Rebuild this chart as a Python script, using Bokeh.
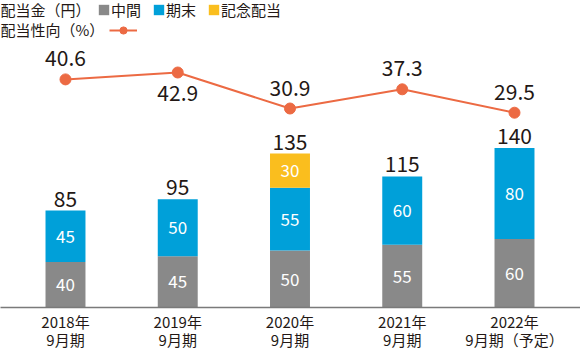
from bokeh.plotting import figure
from bokeh.models import (ColumnDataSource, Range1d, LinearAxis, FixedTicker,
                          Legend, LegendItem, Label)
from bokeh.core.properties import value
from bokeh.embed import file_html
from bokeh.resources import INLINE

# ---- data ----
periods = ["2018年\n9月期", "2019年\n9月期", "2020年\n9月期", "2021年\n9月期", "2022年\n9月期（予定）"]
interim = [40, 45, 50, 55, 60]
year_end = [45, 50, 55, 60, 80]
commemorative = [0, 0, 30, 0, 0]
payout_ratio = [40.6, 42.9, 30.9, 37.3, 29.5]
ratio_label_below = [False, True, False, False, False]

FONT = "Noto Sans CJK JP"
TXT = "#231815"
GREY = "#898989"
BLUE = "#00a0d9"
YELLOW = "#fabe1e"
ORANGE = "#ec6a43"

xs = list(range(len(periods)))
totals = [a + b + c for a, b, c in zip(interim, year_end, commemorative)]

src = ColumnDataSource(dict(x=xs, interim=interim, year_end=year_end,
                            commemorative=commemorative, total=totals,
                            total_txt=[str(t) for t in totals],
                            ratio=payout_ratio))

p = figure(width=580, height=349, frame_width=580, frame_height=307,
           output_backend="svg", toolbar_location=None,
           x_range=Range1d(-0.579, 4.588), y_range=Range1d(0, 269.3),
           min_border_left=0, min_border_right=0, min_border_top=0,
           min_border_bottom=42, y_axis_location=None, x_axis_location=None,
           outline_line_color=None)
p.grid.visible = False
p.background_fill_color = "white"
p.border_fill_color = "white"

p.extra_y_ranges = {"ratio": Range1d(-35.43, 66.9)}

# x axis
xaxis = LinearAxis(ticker=FixedTicker(ticks=xs))
xaxis.major_label_overrides = {i: lab for i, lab in enumerate(periods)}
xaxis.major_tick_line_color = None
xaxis.minor_tick_line_color = None
xaxis.major_tick_out = 0
xaxis.major_tick_in = 0
xaxis.axis_line_color = "#7a7a7a"
xaxis.axis_line_width = 1.5
xaxis.major_label_standoff = 3
xaxis.major_label_text_font = FONT
xaxis.major_label_text_font_size = "15px"
xaxis.major_label_text_color = TXT
xaxis.major_label_text_line_height = 0.9
p.add_layout(xaxis, "below")

# stacked bars
bars = p.vbar_stack(["interim", "year_end", "commemorative"], x="x", width=0.356,
                    source=src, color=[GREY, BLUE, YELLOW], line_color=None)

# in-bar labels
mid_y = [a / 2 for a in interim]
end_y = [a + b / 2 for a, b in zip(interim, year_end)]
p.text(x=xs, y=mid_y, text=[str(v) for v in interim], text_color="white",
       text_font=value(FONT), text_font_size="17px", text_align="center",
       text_baseline="middle")
p.text(x=xs, y=end_y, text=[str(v) for v in year_end], text_color="white",
       text_font=value(FONT), text_font_size="17px", text_align="center",
       text_baseline="middle")
cx = [x for x, c in zip(xs, commemorative) if c > 0]
cy = [a + b + c / 2 for a, b, c in zip(interim, year_end, commemorative) if c > 0]
ct = [str(c) for c in commemorative if c > 0]
p.text(x=cx, y=cy, text=ct, text_color="white", text_font=value(FONT),
       text_font_size="17px", text_align="center", text_baseline="middle")

# totals
p.text(x="x", y="total", text="total_txt", source=src,
       text_color=TXT, text_font=value(FONT), text_font_size="21px",
       text_align="center", text_baseline="bottom", y_offset=-4)

# payout ratio line
ln = p.line(x="x", y="ratio", source=src, line_color=ORANGE, line_width=2,
            y_range_name="ratio")
sc = p.scatter(x="x", y="ratio", source=src, size=11, fill_color=ORANGE,
               line_color=ORANGE, y_range_name="ratio")

ax = [x for x, b in zip(xs, ratio_label_below) if not b]
ay = [r for r, b in zip(payout_ratio, ratio_label_below) if not b]
bx = [x for x, b in zip(xs, ratio_label_below) if b]
by = [r for r, b in zip(payout_ratio, ratio_label_below) if b]
p.text(x=ax, y=ay, text=[f"{v:.1f}" for v in ay], y_range_name="ratio",
       text_color=TXT, text_font=value(FONT), text_font_size="21px",
       text_align="center", text_baseline="bottom", y_offset=-13)
p.text(x=bx, y=by, text=[f"{v:.1f}" for v in by], y_range_name="ratio",
       text_color=TXT, text_font=value(FONT), text_font_size="21px",
       text_align="center", text_baseline="top", y_offset=12)

# legend
def style(lg):
    lg.orientation = "horizontal"
    lg.padding = 0
    lg.margin = 0
    lg.spacing = 11
    lg.label_standoff = 1
    lg.border_line_color = None
    lg.background_fill_alpha = 0
    lg.label_text_font = FONT
    lg.label_text_font_size = "15px"
    lg.label_text_color = TXT
    lg.label_height = 18

leg1 = Legend(items=[LegendItem(label="中間", renderers=[bars[0]]),
                     LegendItem(label="期末", renderers=[bars[1]]),
                     LegendItem(label="記念配当", renderers=[bars[2]])],
              location=(97, 287))
style(leg1)
leg1.glyph_width = 13
leg1.glyph_height = 13
p.add_layout(leg1, "center")

leg2 = Legend(items=[LegendItem(label="", renderers=[ln, sc])], location=(109, 268))
style(leg2)
leg2.glyph_width = 28
leg2.glyph_height = 18
p.add_layout(leg2, "center")

for txt, yy in (("配当金（円）", 288), ("配当性向（%）", 268)):
    p.add_layout(Label(x=0, y=yy, x_units="screen", y_units="screen", text=txt,
                       text_font=FONT, text_font_size="15px", text_color=TXT,
                       text_baseline="bottom"))

open("out.html", "w").write(file_html(p, INLINE))
